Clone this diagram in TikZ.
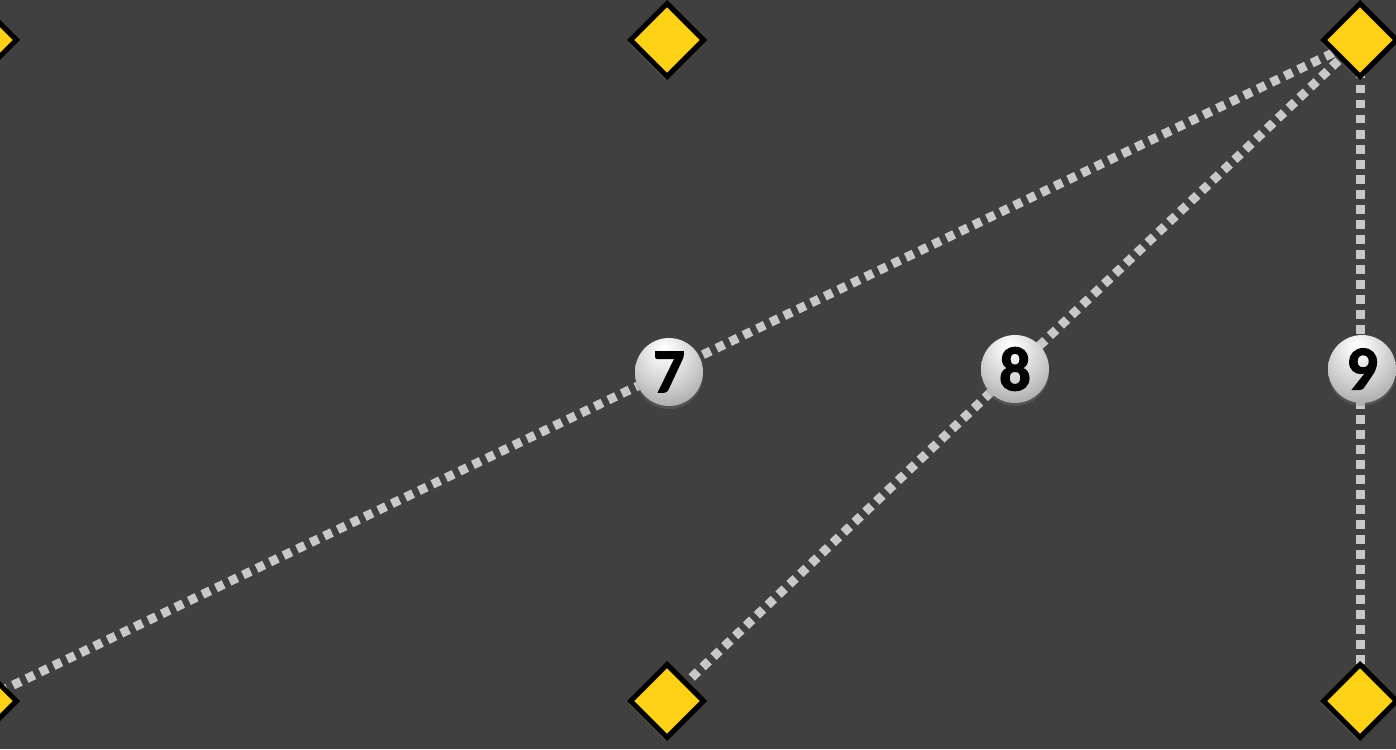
\documentclass[tikz,border=0pt]{standalone}
\usepackage{fontspec}
\newfontfamily\numfont{Carlito}[BoldFeatures={FakeBold=2.2}]
\usetikzlibrary{shapes.geometric,shadows}
\definecolor{bgc}{HTML}{404040}
\definecolor{ylw}{HTML}{FCD116}
\definecolor{dotc}{HTML}{C8C8C8}
\pgfdeclarelayer{lines}
\pgfdeclarelayer{bgl}
\pgfsetlayers{bgl,lines,main}
\pgfdeclareradialshading{ballshade}{\pgfpoint{-4bp}{18bp}}{%
  color(0bp)=(white);
  color(8bp)=(white!95!black);
  color(24bp)=(black!20);
  color(38bp)=(black!36);
  color(46bp)=(black!44);
  color(52bp)=(black!36);
  color(70bp)=(black!36)}
\tikzset{
  gem/.style={shape=diamond, draw=black, line width=5pt, fill=ylw,
    minimum width=75pt, minimum height=75pt, inner sep=0pt,
    drop shadow={opacity=0.35, shadow xshift=-2pt, shadow yshift=-3pt}},
  ball/.style={circle, minimum size=68pt, inner sep=0pt, shading=ballshade,
    font=\numfont\bfseries\fontsize{62}{62}\selectfont, text=black,
    drop shadow={opacity=0.3, shadow xshift=0pt, shadow yshift=-3pt}},
  dotline/.style={draw=dotc, line width=9pt, dash pattern=on 8.5pt off 6.5pt}
}
\begin{document}
\begin{tikzpicture}[x=1pt,y=-1pt]
\begin{pgfonlayer}{bgl}
\fill[bgc] (0,0) rectangle (1396,749);
\end{pgfonlayer}
\useasboundingbox (0,0) rectangle (1396,749);
\node[gem] (tl) at (-20,40) {};
\node[gem] (tm) at (667,40) {};
\node[gem] (tr) at (1360,40) {};
\node[gem] (bl) at (-20,701) {};
\node[gem] (bm) at (667,701) {};
\node[gem] (br) at (1360,701) {};
\node[ball] (b7) at (669,372) {\raisebox{-2pt}{7}};
\node[ball] (b8) at (1015,369) {\raisebox{-2pt}{8}};
\node[ball] (b9) at (1362,369) {\raisebox{-2pt}{9}};
\begin{pgfonlayer}{lines}
\draw[dotline] (tr.center) -- (bl.center);
\draw[dotline] (tr.center) -- (bm.center);
\draw[dotline] (tr.center) -- (br.center);
\end{pgfonlayer}
\end{tikzpicture}
\end{document}
